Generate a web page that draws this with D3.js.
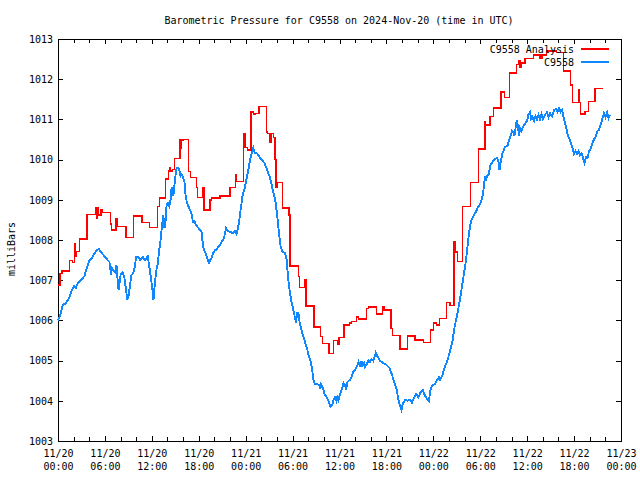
<!DOCTYPE html>
<html><head><meta charset="utf-8">
<script src="https://cdn.jsdelivr.net/npm/d3@7"></script>
<style>
body{margin:0;background:#fff}
svg{display:block}
text{font-family:"DejaVu Sans Mono","Liberation Mono",monospace;font-size:10px;fill:#000}
</style>
</head><body>
<svg id="c" width="640" height="480"></svg>
<script>
const chartTitle = "Barometric Pressure for C9558 on 2024-Nov-20 (time in UTC)";
const yAxisLabel = "milliBars";
const seriesNames = ["C9558 Analysis", "C9558"];
const seriesColors = ["#ff0000", "#0f87ff"];
const yTicks = [1003,1004,1005,1006,1007,1008,1009,1010,1011,1012,1013];
const xMajorHours = [0,6,12,18,24,30,36,42,48,54,60,66,72];
const xMinorHours = d3.range(0, 73, 2);

// [hour since 2024-11-20 00:00 UTC, milliBars] - step series
const analysisSeries = [
[0,1006.88],[0.26,1007.17],[0.51,1007.23],[1.45,1007.49],[1.88,1007.44],[2.09,1007.9],[2.2,1007.6],[2.3,1007.71],[2.73,1008.02],[3.71,1008.64],
[4.86,1008.81],[4.95,1008.55],[5.05,1008.81],[5.2,1008.62],[5.5,1008.76],[5.71,1008.69],[6.69,1008.4],[6.85,1008.25],[7.42,1008.53],[7.63,1008.33],
[8.7,1008.06],[9.68,1008.6],[10.74,1008.43],[11.68,1008.31],[12.7,1008.83],[12.96,1009.04],[13.77,1009.52],[14.11,1009.72],[14.3,1009.8],[14.4,1009.72],
[14.67,1009.75],[14.88,1010.03],[15.6,1010.49],[15.73,1010.29],[15.8,1010.49],[16.0,1010.5],[16.67,1009.7],[16.97,1009.56],[17.74,1009.31],[17.87,1009.06],
[18.5,1009.3],[18.67,1008.75],[19.44,1009.0],[19.65,1009.04],[20.72,1009.1],[22.0,1009.31],[22.72,1009.62],[22.85,1009.45],[23.7,1010.64],[23.9,1010.3],
[24.21,1010.24],[24.68,1011.18],[25.0,1011.12],[25.2,1011.15],[25.7,1011.32],[26.69,1010.69],[26.8,1010.65],[27.11,1010.42],[27.33,1010.65],[27.54,1010.55],
[27.75,1010.0],[27.88,1009.3],[28.05,1009.43],[28.69,1008.79],[29.54,1008.62],[29.67,1007.35],[30.74,1007.09],[30.87,1006.82],[31.59,1007.0],[31.72,1006.36],
[32.74,1005.83],[33.6,1005.6],[33.8,1005.43],[34.66,1005.18],[35.21,1005.5],[35.72,1005.4],[35.94,1005.58],[36.58,1005.89],[37.26,1005.93],[37.56,1005.97],
[38.2,1006.09],[38.41,1006.03],[39.48,1006.3],[39.69,1006.33],[40.76,1006.16],[41.53,1006.35],[41.69,1006.26],[42.59,1005.8],[42.76,1005.63],[43.74,1005.29],
[44.72,1005.61],[45.66,1005.51],[46.72,1005.45],[47.66,1005.76],[48.0,1005.93],[48.43,1005.88],[48.77,1006.05],[49.71,1006.44],[50.13,1006.37],[50.65,1007.96],
[50.8,1007.7],[51.07,1007.46],[51.71,1008.83],[52.78,1009.43],[53.76,1010.26],[54.61,1010.95],[54.7,1010.86],[55.25,1011.07],[55.68,1011.28],[56.66,1011.68],
[57.08,1011.54],[57.72,1012.16],[58.66,1012.37],[58.9,1012.45],[59.1,1012.3],[59.3,1012.4],[59.73,1012.52],[60.79,1012.6],[61.64,1012.52],[61.9,1012.6],
[62.5,1012.7],[63.78,1012.66],[64.63,1012.21],[65.57,1011.86],[65.78,1011.42],[66.55,1011.75],[66.7,1011.42],[66.85,1011.13],[67.4,1011.2],[67.83,1011.44],
[68.68,1011.77],[69.66,1011.77]
];

// [hour, milliBars] - station observations
const stationSeries = [
[0,1006.0],[0.26,1006.11],[0.6,1006.38],[1.02,1006.43],[1.28,1006.51],[1.45,1006.58],[1.79,1006.76],[2.09,1006.86],[2.3,1006.81],[2.52,1006.93],
[2.94,1007.0],[3.37,1007.1],[3.67,1007.3],[4.01,1007.48],[4.43,1007.58],[4.86,1007.73],[5.2,1007.78],[5.5,1007.7],[5.93,1007.6],[6.35,1007.5],
[6.58,1007.45],[6.78,1007.13],[6.91,1007.3],[7.1,1007.25],[7.33,1007.2],[7.48,1007.38],[7.63,1007.0],[7.74,1006.76],[7.84,1006.88],[8.0,1007.13],
[8.27,1007.2],[8.5,1007.05],[8.7,1006.76],[8.86,1006.51],[9.04,1006.61],[9.21,1006.88],[9.4,1007.13],[9.64,1007.18],[9.85,1007.35],[9.98,1007.58],
[10.23,1007.58],[10.49,1007.5],[10.83,1007.58],[11.13,1007.5],[11.47,1007.6],[11.68,1007.33],[11.89,1007.05],[12.11,1006.71],[12.21,1006.51],[12.32,1006.76],
[12.53,1007.2],[12.75,1007.4],[12.96,1007.77],[13.17,1008.07],[13.3,1008.37],[13.47,1008.62],[13.62,1008.3],[13.75,1008.45],[13.9,1008.9],[14.07,1008.92],
[14.24,1008.84],[14.39,1008.99],[14.54,1009.32],[14.64,1009.24],[14.75,1009.09],[14.9,1009.37],[15.03,1009.62],[15.18,1009.79],[15.39,1009.79],[15.54,1009.72],
[15.67,1009.59],[15.82,1009.64],[16.03,1009.54],[16.18,1009.44],[16.31,1009.12],[16.46,1008.95],[16.67,1008.84],[16.88,1008.75],[17.1,1008.62],[17.26,1008.45],
[17.46,1008.47],[17.65,1008.37],[17.95,1008.3],[18.16,1008.25],[18.37,1008.2],[18.48,1007.98],[18.59,1007.8],[18.8,1007.7],[19.01,1007.6],[19.18,1007.5],
[19.31,1007.4],[19.44,1007.5],[19.65,1007.55],[19.87,1007.68],[20.08,1007.75],[20.27,1007.75],[20.46,1007.83],[20.72,1007.88],[20.93,1007.95],[21.23,1008.05],
[21.49,1008.3],[21.7,1008.22],[22.0,1008.2],[22.42,1008.17],[22.63,1008.22],[22.83,1008.15],[23.02,1008.3],[23.19,1008.5],[23.4,1008.82],[23.62,1009.12],
[23.92,1009.32],[24.13,1009.54],[24.34,1009.74],[24.56,1009.99],[24.77,1010.16],[24.98,1010.29],[25.19,1010.16],[25.41,1010.16],[25.62,1010.11],[25.83,1010.04],
[26.09,1009.99],[26.39,1009.92],[26.6,1009.82],[26.77,1009.72],[26.99,1009.62],[27.2,1009.49],[27.41,1009.29],[27.63,1009.12],[27.84,1008.92],[28.05,1008.57],
[28.26,1008.17],[28.48,1007.83],[28.71,1007.7],[29.03,1007.68],[29.25,1007.5],[29.35,1007.25],[29.46,1007.0],[29.67,1006.68],[29.89,1006.43],[30.1,1006.26],
[30.31,1006.06],[30.44,1005.94],[30.57,1006.18],[30.74,1006.18],[30.9,1005.96],[31.08,1005.81],[31.25,1005.66],[31.46,1005.56],[31.68,1005.39],[31.84,1005.31],
[32.01,1005.16],[32.32,1004.97],[32.48,1004.82],[32.66,1004.52],[32.87,1004.42],[33.12,1004.42],[33.42,1004.39],[33.51,1004.29],[33.64,1004.42],[33.85,1004.32],
[34.15,1004.14],[34.44,1004.07],[34.66,1003.95],[34.85,1003.85],[35.09,1003.9],[35.24,1004.02],[35.43,1004.09],[35.62,1003.99],[35.72,1004.09],[35.87,1004.02],
[36.07,1004.17],[36.36,1004.32],[36.52,1004.44],[36.71,1004.39],[36.83,1004.27],[37.02,1004.47],[37.34,1004.52],[37.53,1004.59],[37.73,1004.72],[37.98,1004.77],
[38.28,1004.87],[38.43,1004.97],[38.62,1004.87],[38.81,1004.99],[38.92,1004.87],[39.13,1004.94],[39.26,1004.84],[39.56,1004.94],[39.71,1005.01],[39.9,1004.97],
[40.09,1005.04],[40.33,1004.99],[40.48,1005.09],[40.63,1005.19],[40.84,1005.11],[41.18,1004.99],[41.61,1004.94],[42.03,1004.89],[42.37,1004.82],[42.67,1004.67],
[42.97,1004.49],[43.31,1004.27],[43.61,1003.95],[43.83,1003.82],[43.93,1003.77],[44.08,1003.92],[44.38,1004.02],[44.7,1004.0],[45.02,1004.02],[45.27,1003.95],
[45.44,1004.04],[45.79,1004.17],[46.08,1004.09],[46.39,1004.22],[46.64,1004.27],[46.81,1004.19],[46.94,1004.12],[47.23,1004.04],[47.45,1003.99],[47.58,1004.24],
[47.87,1004.39],[48.22,1004.42],[48.51,1004.52],[48.73,1004.59],[48.86,1004.52],[49.15,1004.62],[49.49,1004.87],[49.79,1004.99],[50.13,1005.24],[50.43,1005.46],
[50.65,1005.76],[50.9,1006.01],[51.09,1006.18],[51.28,1006.38],[51.54,1006.68],[51.73,1006.93],[51.93,1007.18],[52.18,1007.5],[52.37,1007.83],[52.56,1008.17],
[52.81,1008.47],[53.07,1008.57],[53.27,1008.65],[53.46,1008.7],[53.65,1008.8],[53.84,1008.85],[54.1,1008.95],[54.29,1009.09],[54.48,1009.34],[54.61,1009.59],
[54.74,1009.47],[54.87,1009.59],[55.12,1009.64],[55.25,1009.84],[55.5,1009.92],[55.76,1009.99],[56.14,1010.04],[56.34,1009.94],[56.46,1009.74],[56.66,1009.99],
[56.85,1010.16],[57.17,1010.31],[57.49,1010.34],[57.68,1010.49],[57.87,1010.59],[58.06,1010.71],[58.25,1010.66],[58.38,1010.59],[58.57,1010.86],[58.7,1010.99],
[58.83,1010.79],[58.96,1010.59],[59.09,1010.79],[59.28,1010.71],[59.47,1010.81],[59.73,1010.89],[59.98,1010.96],[60.17,1011.13],[60.37,1011.18],[60.5,1011.01],
[60.69,1011.06],[60.88,1010.96],[61.07,1011.08],[61.26,1010.99],[61.45,1011.11],[61.64,1010.99],[61.84,1011.13],[62.03,1011.01],[62.28,1011.11],[62.54,1011.18],
[62.73,1011.06],[62.92,1011.16],[63.18,1011.08],[63.43,1011.23],[63.69,1011.26],[63.88,1011.18],[64.07,1011.28],[64.27,1011.18],[64.46,1011.23],[64.71,1011.01],
[64.97,1010.81],[65.16,1010.64],[65.35,1010.54],[65.61,1010.41],[65.8,1010.29],[65.99,1010.14],[66.18,1010.21],[66.38,1010.14],[66.57,1010.21],[66.76,1010.11],
[66.95,1010.16],[67.14,1010.04],[67.34,1009.92],[67.53,1010.06],[67.72,1010.04],[67.91,1010.21],[68.17,1010.29],[68.36,1010.41],[68.55,1010.51],[68.81,1010.59],
[69.0,1010.71],[69.19,1010.74],[69.45,1010.91],[69.64,1011.03],[69.83,1011.16],[70.02,1011.06],[70.21,1011.18],[70.41,1011.03],[70.6,1011.11]
];

const startMs = Date.UTC(2024, 10, 20, 0, 0);
const toDate = h => new Date(startMs + h * 3600e3);

const svg = d3.select("#c");
const L = 58, R = 621, T = 39, B = 441;
const x = d3.scaleUtc().domain([toDate(0), toDate(72)]).range([L, R]);
const y = d3.scaleLinear().domain([1003, 1013]).range([B, T]);

svg.append("rect").attr("width", 640).attr("height", 480).attr("fill", "#fff");

svg.append("text").attr("x", 339).attr("y", 24).attr("text-anchor", "middle").text(chartTitle);
svg.append("text").attr("transform", "translate(15,249) rotate(-90)")
  .attr("text-anchor", "middle").text(yAxisLabel);

const fmtDay = d3.utcFormat("%m/%d"), fmtTime = d3.utcFormat("%H:%M");

svg.append("g").attr("transform", `translate(0,${B})`)
  .call(d3.axisBottom(x).tickValues(xMinorHours.map(toDate)).tickSize(-4).tickFormat(""))
  .call(g => g.select(".domain").remove());
const xb = svg.append("g").attr("transform", `translate(0,${B})`)
  .call(d3.axisBottom(x).tickValues(xMajorHours.map(toDate)).tickSize(-5).tickFormat(""));
xb.select(".domain").remove();
xb.selectAll(".tick").each(function(d) {
  const t = d3.select(this).append("text").attr("text-anchor", "middle").attr("fill", "#000");
  t.append("tspan").attr("x", 0).attr("y", 16).text(fmtDay(d));
  t.append("tspan").attr("x", 0).attr("y", 29).text(fmtTime(d));
});
svg.append("g").attr("transform", `translate(0,${T})`)
  .call(d3.axisTop(x).tickValues(xMinorHours.map(toDate)).tickSize(-4).tickFormat(""))
  .call(g => g.select(".domain").remove());
svg.append("g").attr("transform", `translate(0,${T})`)
  .call(d3.axisTop(x).tickValues(xMajorHours.map(toDate)).tickSize(-5).tickFormat(""))
  .call(g => g.select(".domain").remove());
svg.append("g").attr("transform", `translate(${L},0)`)
  .call(d3.axisLeft(y).tickValues(yTicks).tickSize(-5).tickPadding(5).tickFormat(d3.format("d")))
  .call(g => g.select(".domain").remove())
  .call(g => g.selectAll("text").attr("fill", "#000"));
svg.append("g").attr("transform", `translate(${R},0)`)
  .call(d3.axisRight(y).tickValues(yTicks).tickSize(-5).tickFormat(""))
  .call(g => g.select(".domain").remove());

svg.selectAll(".tick line").attr("stroke", "#000").attr("shape-rendering", "crispEdges");
svg.selectAll(".tick text").style("font-size", "10px").style("font-family", '"DejaVu Sans Mono",monospace');

svg.append("rect").attr("x", L).attr("y", T).attr("width", R - L).attr("height", B - T)
  .attr("fill", "none").attr("stroke", "#000").attr("shape-rendering", "crispEdges");

const stepLine = d3.line().x(d => x(toDate(d[0]))).y(d => y(d[1])).curve(d3.curveStepAfter);
const plainLine = d3.line().x(d => x(toDate(d[0]))).y(d => y(d[1]));

svg.append("path").datum(analysisSeries).attr("d", stepLine)
  .attr("fill", "none").attr("stroke", seriesColors[0]).attr("stroke-width", 1.5)
  .attr("shape-rendering", "crispEdges");
svg.append("path").datum(stationSeries).attr("d", plainLine)
  .attr("fill", "none").attr("stroke", seriesColors[1]).attr("stroke-width", 1.9)
  .attr("shape-rendering", "crispEdges");

const legendY = [49, 62];
seriesNames.forEach((name, i) => {
  svg.append("text").attr("x", 574).attr("y", legendY[i] + 4).attr("text-anchor", "end").text(name);
  svg.append("line").attr("x1", 581).attr("x2", 609).attr("y1", legendY[i]).attr("y2", legendY[i])
    .attr("stroke", seriesColors[i]).attr("stroke-width", 1.5).attr("shape-rendering", "crispEdges");
});
</script>
</body></html>
